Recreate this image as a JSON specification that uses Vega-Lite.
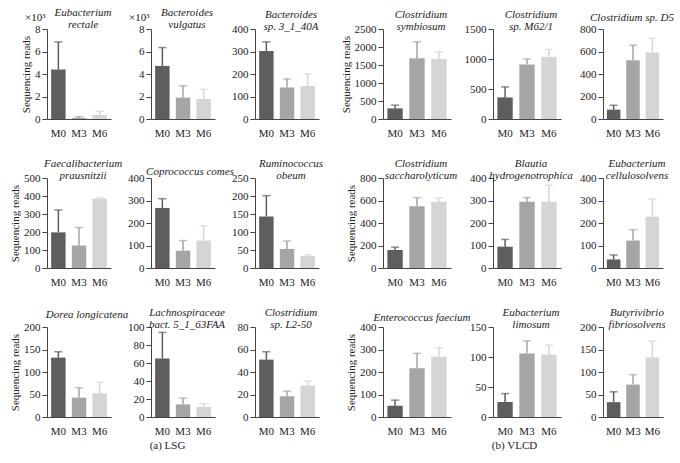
{
 "$schema": "https://vega.github.io/schema/vega-lite/v6.json",
 "background": "white",
 "padding": {"left": 9, "top": 6, "right": 2, "bottom": 2},
 "data": {"values": [
  {"taxon": "Eubacterium rectale", "month": "M0", "mean": 4.4, "upper": 6.85},
  {"taxon": "Eubacterium rectale", "month": "M3", "mean": 0.1, "upper": 0.2},
  {"taxon": "Eubacterium rectale", "month": "M6", "mean": 0.35, "upper": 0.68},
  {"taxon": "Bacteroides vulgatus", "month": "M0", "mean": 4.72, "upper": 6.35},
  {"taxon": "Bacteroides vulgatus", "month": "M3", "mean": 1.9, "upper": 2.95},
  {"taxon": "Bacteroides vulgatus", "month": "M6", "mean": 1.78, "upper": 2.63},
  {"taxon": "Bacteroides sp. 3_1_40A", "month": "M0", "mean": 302, "upper": 343},
  {"taxon": "Bacteroides sp. 3_1_40A", "month": "M3", "mean": 140, "upper": 178},
  {"taxon": "Bacteroides sp. 3_1_40A", "month": "M6", "mean": 147, "upper": 200},
  {"taxon": "Faecalibacterium prausnitzii", "month": "M0", "mean": 198, "upper": 322},
  {"taxon": "Faecalibacterium prausnitzii", "month": "M3", "mean": 125, "upper": 225},
  {"taxon": "Faecalibacterium prausnitzii", "month": "M6", "mean": 385, "upper": 390},
  {"taxon": "Coprococcus comes", "month": "M0", "mean": 267, "upper": 308},
  {"taxon": "Coprococcus comes", "month": "M3", "mean": 77, "upper": 122},
  {"taxon": "Coprococcus comes", "month": "M6", "mean": 122, "upper": 187},
  {"taxon": "Ruminococcus obeum", "month": "M0", "mean": 143, "upper": 201},
  {"taxon": "Ruminococcus obeum", "month": "M3", "mean": 53, "upper": 75},
  {"taxon": "Ruminococcus obeum", "month": "M6", "mean": 33, "upper": 37},
  {"taxon": "Dorea longicatena", "month": "M0", "mean": 132, "upper": 145},
  {"taxon": "Dorea longicatena", "month": "M3", "mean": 43, "upper": 65},
  {"taxon": "Dorea longicatena", "month": "M6", "mean": 53, "upper": 77},
  {"taxon": "Lachnospiraceae bact. 5_1_63FAA", "month": "M0", "mean": 65, "upper": 94},
  {"taxon": "Lachnospiraceae bact. 5_1_63FAA", "month": "M3", "mean": 14, "upper": 21},
  {"taxon": "Lachnospiraceae bact. 5_1_63FAA", "month": "M6", "mean": 11, "upper": 15},
  {"taxon": "Clostridium sp. L2-50", "month": "M0", "mean": 51, "upper": 58},
  {"taxon": "Clostridium sp. L2-50", "month": "M3", "mean": 18.5, "upper": 23},
  {"taxon": "Clostridium sp. L2-50", "month": "M6", "mean": 28, "upper": 32},
  {"taxon": "Clostridium symbiosum", "month": "M0", "mean": 295, "upper": 385},
  {"taxon": "Clostridium symbiosum", "month": "M3", "mean": 1690, "upper": 2145},
  {"taxon": "Clostridium symbiosum", "month": "M6", "mean": 1670, "upper": 1865},
  {"taxon": "Clostridium sp. M62/1", "month": "M0", "mean": 360, "upper": 535},
  {"taxon": "Clostridium sp. M62/1", "month": "M3", "mean": 910, "upper": 1000},
  {"taxon": "Clostridium sp. M62/1", "month": "M6", "mean": 1035, "upper": 1160},
  {"taxon": "Clostridium sp. D5", "month": "M0", "mean": 83, "upper": 122},
  {"taxon": "Clostridium sp. D5", "month": "M3", "mean": 522, "upper": 655},
  {"taxon": "Clostridium sp. D5", "month": "M6", "mean": 592, "upper": 717},
  {"taxon": "Clostridium saccharolyticum", "month": "M0", "mean": 160, "upper": 185},
  {"taxon": "Clostridium saccharolyticum", "month": "M3", "mean": 550, "upper": 625},
  {"taxon": "Clostridium saccharolyticum", "month": "M6", "mean": 590, "upper": 622},
  {"taxon": "Blautia hydrogenotrophica", "month": "M0", "mean": 95, "upper": 127},
  {"taxon": "Blautia hydrogenotrophica", "month": "M3", "mean": 295, "upper": 313},
  {"taxon": "Blautia hydrogenotrophica", "month": "M6", "mean": 295, "upper": 368},
  {"taxon": "Eubacterium cellulosolvens", "month": "M0", "mean": 38, "upper": 58},
  {"taxon": "Eubacterium cellulosolvens", "month": "M3", "mean": 122, "upper": 170},
  {"taxon": "Eubacterium cellulosolvens", "month": "M6", "mean": 228, "upper": 307},
  {"taxon": "Enterococcus faecium", "month": "M0", "mean": 50, "upper": 75},
  {"taxon": "Enterococcus faecium", "month": "M3", "mean": 217, "upper": 283},
  {"taxon": "Enterococcus faecium", "month": "M6", "mean": 268, "upper": 308},
  {"taxon": "Eubacterium limosum", "month": "M0", "mean": 25, "upper": 39},
  {"taxon": "Eubacterium limosum", "month": "M3", "mean": 106, "upper": 127},
  {"taxon": "Eubacterium limosum", "month": "M6", "mean": 104, "upper": 120},
  {"taxon": "Butyrivibrio fibriosolvens", "month": "M0", "mean": 33, "upper": 56},
  {"taxon": "Butyrivibrio fibriosolvens", "month": "M3", "mean": 72, "upper": 94},
  {"taxon": "Butyrivibrio fibriosolvens", "month": "M6", "mean": 132, "upper": 169}
 ]},
 "spacing": 16,
 "hconcat": [
  {"columns": 3, "bounds": "flush", "spacing": {"row": 59, "column": 40}, "concat": [
   {"width": 64, "height": 90, "title": {"text": ["Eubacterium", "rectale"], "dy": 10},
    "transform": [{"filter": "datum.taxon === 'Eubacterium rectale'"}],
    "encoding": {"x": {"field": "month", "type": "nominal", "title": null}, "color": {"field": "month", "type": "nominal", "scale": {"domain": ["M0", "M3", "M6"], "range": ["#5e5e5e", "#a5a5a5", "#d5d5d5"]}, "legend": null}},
    "layer": [
     {"mark": "bar", "encoding": {"y": {"field": "mean", "type": "quantitative", "scale": {"domain": [0, 8], "nice": false}, "axis": {"values": [0, 2, 4, 6, 8], "title": "Sequencing reads"}}}},
     {"mark": {"type": "rule", "strokeWidth": 1.5}, "encoding": {"y": {"field": "mean", "type": "quantitative", "axis": {"orient": "right", "title": "×10³", "labels": false, "ticks": false, "domain": false, "titleAngle": 0, "titleAlign": "right", "titleBaseline": "alphabetic", "titleX": -66, "titleY": -9}}, "y2": {"field": "upper"}}},
     {"mark": {"type": "tick", "size": 8, "thickness": 1.5}, "encoding": {"y": {"field": "upper", "type": "quantitative", "axis": null}}}
    ],
    "resolve": {"axis": {"y": "independent"}}},
   {"width": 64, "height": 90, "title": {"text": ["Bacteroides", "vulgatus"], "dy": 10},
    "transform": [{"filter": "datum.taxon === 'Bacteroides vulgatus'"}],
    "encoding": {"x": {"field": "month", "type": "nominal", "title": null}, "color": {"field": "month", "type": "nominal", "scale": {"domain": ["M0", "M3", "M6"], "range": ["#5e5e5e", "#a5a5a5", "#d5d5d5"]}, "legend": null}},
    "layer": [
     {"mark": "bar", "encoding": {"y": {"field": "mean", "type": "quantitative", "scale": {"domain": [0, 8], "nice": false}, "axis": {"values": [0, 2, 4, 6, 8], "title": null}}}},
     {"mark": {"type": "rule", "strokeWidth": 1.5}, "encoding": {"y": {"field": "mean", "type": "quantitative", "axis": {"orient": "right", "title": "×10³", "labels": false, "ticks": false, "domain": false, "titleAngle": 0, "titleAlign": "right", "titleBaseline": "alphabetic", "titleX": -66, "titleY": -9}}, "y2": {"field": "upper"}}},
     {"mark": {"type": "tick", "size": 8, "thickness": 1.5}, "encoding": {"y": {"field": "upper", "type": "quantitative", "axis": null}}}
    ],
    "resolve": {"axis": {"y": "independent"}}},
   {"width": 64, "height": 90, "title": {"text": ["Bacteroides", "sp. 3_1_40A"]},
    "transform": [{"filter": "datum.taxon === 'Bacteroides sp. 3_1_40A'"}],
    "encoding": {"x": {"field": "month", "type": "nominal", "title": null}, "color": {"field": "month", "type": "nominal", "scale": {"domain": ["M0", "M3", "M6"], "range": ["#5e5e5e", "#a5a5a5", "#d5d5d5"]}, "legend": null}},
    "layer": [
     {"mark": "bar", "encoding": {"y": {"field": "mean", "type": "quantitative", "scale": {"domain": [0, 400], "nice": false}, "axis": {"values": [0, 100, 200, 300, 400], "title": null}}}},
     {"mark": {"type": "rule", "strokeWidth": 1.5}, "encoding": {"y": {"field": "mean", "type": "quantitative", "axis": null}, "y2": {"field": "upper"}}},
     {"mark": {"type": "tick", "size": 8, "thickness": 1.5}, "encoding": {"y": {"field": "upper", "type": "quantitative", "axis": null}}}
    ],
    "resolve": {"axis": {"y": "independent"}}},
   {"width": 64, "height": 90, "title": {"text": ["Faecalibacterium", "prausnitzii"]},
    "transform": [{"filter": "datum.taxon === 'Faecalibacterium prausnitzii'"}],
    "encoding": {"x": {"field": "month", "type": "nominal", "title": null}, "color": {"field": "month", "type": "nominal", "scale": {"domain": ["M0", "M3", "M6"], "range": ["#5e5e5e", "#a5a5a5", "#d5d5d5"]}, "legend": null}},
    "layer": [
     {"mark": "bar", "encoding": {"y": {"field": "mean", "type": "quantitative", "scale": {"domain": [0, 500], "nice": false}, "axis": {"values": [0, 100, 200, 300, 400, 500], "title": "Sequencing reads"}}}},
     {"mark": {"type": "rule", "strokeWidth": 1.5}, "encoding": {"y": {"field": "mean", "type": "quantitative", "axis": null}, "y2": {"field": "upper"}}},
     {"mark": {"type": "tick", "size": 8, "thickness": 1.5}, "encoding": {"y": {"field": "upper", "type": "quantitative", "axis": null}}}
    ],
    "resolve": {"axis": {"y": "independent"}}},
   {"width": 64, "height": 90, "title": {"text": "Coprococcus comes", "dx": 7, "dy": -4},
    "transform": [{"filter": "datum.taxon === 'Coprococcus comes'"}],
    "encoding": {"x": {"field": "month", "type": "nominal", "title": null}, "color": {"field": "month", "type": "nominal", "scale": {"domain": ["M0", "M3", "M6"], "range": ["#5e5e5e", "#a5a5a5", "#d5d5d5"]}, "legend": null}},
    "layer": [
     {"mark": "bar", "encoding": {"y": {"field": "mean", "type": "quantitative", "scale": {"domain": [0, 400], "nice": false}, "axis": {"values": [0, 100, 200, 300, 400], "title": null}}}},
     {"mark": {"type": "rule", "strokeWidth": 1.5}, "encoding": {"y": {"field": "mean", "type": "quantitative", "axis": null}, "y2": {"field": "upper"}}},
     {"mark": {"type": "tick", "size": 8, "thickness": 1.5}, "encoding": {"y": {"field": "upper", "type": "quantitative", "axis": null}}}
    ],
    "resolve": {"axis": {"y": "independent"}}},
   {"width": 64, "height": 90, "title": {"text": ["Ruminococcus", "obeum"]},
    "transform": [{"filter": "datum.taxon === 'Ruminococcus obeum'"}],
    "encoding": {"x": {"field": "month", "type": "nominal", "title": null}, "color": {"field": "month", "type": "nominal", "scale": {"domain": ["M0", "M3", "M6"], "range": ["#5e5e5e", "#a5a5a5", "#d5d5d5"]}, "legend": null}},
    "layer": [
     {"mark": "bar", "encoding": {"y": {"field": "mean", "type": "quantitative", "scale": {"domain": [0, 250], "nice": false}, "axis": {"values": [0, 50, 100, 150, 200, 250], "title": null}}}},
     {"mark": {"type": "rule", "strokeWidth": 1.5}, "encoding": {"y": {"field": "mean", "type": "quantitative", "axis": null}, "y2": {"field": "upper"}}},
     {"mark": {"type": "tick", "size": 8, "thickness": 1.5}, "encoding": {"y": {"field": "upper", "type": "quantitative", "axis": null}}}
    ],
    "resolve": {"axis": {"y": "independent"}}},
   {"width": 64, "height": 90, "title": {"text": "Dorea longicatena", "dx": 8, "dy": -10},
    "transform": [{"filter": "datum.taxon === 'Dorea longicatena'"}],
    "encoding": {"x": {"field": "month", "type": "nominal", "title": null}, "color": {"field": "month", "type": "nominal", "scale": {"domain": ["M0", "M3", "M6"], "range": ["#5e5e5e", "#a5a5a5", "#d5d5d5"]}, "legend": null}},
    "layer": [
     {"mark": "bar", "encoding": {"y": {"field": "mean", "type": "quantitative", "scale": {"domain": [0, 200], "nice": false}, "axis": {"values": [0, 50, 100, 150, 200], "title": "Sequencing reads"}}}},
     {"mark": {"type": "rule", "strokeWidth": 1.5}, "encoding": {"y": {"field": "mean", "type": "quantitative", "axis": null}, "y2": {"field": "upper"}}},
     {"mark": {"type": "tick", "size": 8, "thickness": 1.5}, "encoding": {"y": {"field": "upper", "type": "quantitative", "axis": null}}}
    ],
    "resolve": {"axis": {"y": "independent"}}},
   {"width": 64, "height": 90, "title": {"text": ["Lachnospiraceae", "bact. 5_1_63FAA"]},
    "transform": [{"filter": "datum.taxon === 'Lachnospiraceae bact. 5_1_63FAA'"}],
    "encoding": {"x": {"field": "month", "type": "nominal", "title": "(a) LSG", "axis": {"titleX": 16, "titleY": 22, "titleBaseline": "top", "titleAlign": "center"}}, "color": {"field": "month", "type": "nominal", "scale": {"domain": ["M0", "M3", "M6"], "range": ["#5e5e5e", "#a5a5a5", "#d5d5d5"]}, "legend": null}},
    "layer": [
     {"mark": "bar", "encoding": {"y": {"field": "mean", "type": "quantitative", "scale": {"domain": [0, 100], "nice": false}, "axis": {"values": [0, 20, 40, 60, 80, 100], "title": null}}}},
     {"mark": {"type": "rule", "strokeWidth": 1.5}, "encoding": {"y": {"field": "mean", "type": "quantitative", "axis": null}, "y2": {"field": "upper"}}},
     {"mark": {"type": "tick", "size": 8, "thickness": 1.5}, "encoding": {"y": {"field": "upper", "type": "quantitative", "axis": null}}}
    ],
    "resolve": {"axis": {"y": "independent"}}},
   {"width": 64, "height": 90, "title": {"text": ["Clostridium", "sp. L2-50"]},
    "transform": [{"filter": "datum.taxon === 'Clostridium sp. L2-50'"}],
    "encoding": {"x": {"field": "month", "type": "nominal", "title": null}, "color": {"field": "month", "type": "nominal", "scale": {"domain": ["M0", "M3", "M6"], "range": ["#5e5e5e", "#a5a5a5", "#d5d5d5"]}, "legend": null}},
    "layer": [
     {"mark": "bar", "encoding": {"y": {"field": "mean", "type": "quantitative", "scale": {"domain": [0, 80], "nice": false}, "axis": {"values": [0, 20, 40, 60, 80], "title": null}}}},
     {"mark": {"type": "rule", "strokeWidth": 1.5}, "encoding": {"y": {"field": "mean", "type": "quantitative", "axis": null}, "y2": {"field": "upper"}}},
     {"mark": {"type": "tick", "size": 8, "thickness": 1.5}, "encoding": {"y": {"field": "upper", "type": "quantitative", "axis": null}}}
    ],
    "resolve": {"axis": {"y": "independent"}}}
  ]},
  {"columns": 3, "bounds": "flush", "spacing": {"row": 59, "column": 42}, "concat": [
   {"width": 68, "height": 90, "title": {"text": ["Clostridium", "symbiosum"]},
    "transform": [{"filter": "datum.taxon === 'Clostridium symbiosum'"}],
    "encoding": {"x": {"field": "month", "type": "nominal", "title": null}, "color": {"field": "month", "type": "nominal", "scale": {"domain": ["M0", "M3", "M6"], "range": ["#5e5e5e", "#a5a5a5", "#d5d5d5"]}, "legend": null}},
    "layer": [
     {"mark": "bar", "encoding": {"y": {"field": "mean", "type": "quantitative", "scale": {"domain": [0, 2500], "nice": false}, "axis": {"values": [0, 500, 1000, 1500, 2000, 2500], "title": "Sequencing reads"}}}},
     {"mark": {"type": "rule", "strokeWidth": 1.5}, "encoding": {"y": {"field": "mean", "type": "quantitative", "axis": null}, "y2": {"field": "upper"}}},
     {"mark": {"type": "tick", "size": 8, "thickness": 1.5}, "encoding": {"y": {"field": "upper", "type": "quantitative", "axis": null}}}
    ],
    "resolve": {"axis": {"y": "independent"}}},
   {"width": 68, "height": 90, "title": {"text": ["Clostridium", "sp. M62/1"]},
    "transform": [{"filter": "datum.taxon === 'Clostridium sp. M62/1'"}],
    "encoding": {"x": {"field": "month", "type": "nominal", "title": null}, "color": {"field": "month", "type": "nominal", "scale": {"domain": ["M0", "M3", "M6"], "range": ["#5e5e5e", "#a5a5a5", "#d5d5d5"]}, "legend": null}},
    "layer": [
     {"mark": "bar", "encoding": {"y": {"field": "mean", "type": "quantitative", "scale": {"domain": [0, 1500], "nice": false}, "axis": {"values": [0, 500, 1000, 1500], "title": null}}}},
     {"mark": {"type": "rule", "strokeWidth": 1.5}, "encoding": {"y": {"field": "mean", "type": "quantitative", "axis": null}, "y2": {"field": "upper"}}},
     {"mark": {"type": "tick", "size": 8, "thickness": 1.5}, "encoding": {"y": {"field": "upper", "type": "quantitative", "axis": null}}}
    ],
    "resolve": {"axis": {"y": "independent"}}},
   {"width": 60, "height": 90, "title": {"text": "Clostridium sp. D5", "dx": -1, "dy": -9},
    "transform": [{"filter": "datum.taxon === 'Clostridium sp. D5'"}],
    "encoding": {"x": {"field": "month", "type": "nominal", "title": null}, "color": {"field": "month", "type": "nominal", "scale": {"domain": ["M0", "M3", "M6"], "range": ["#5e5e5e", "#a5a5a5", "#d5d5d5"]}, "legend": null}},
    "layer": [
     {"mark": "bar", "encoding": {"y": {"field": "mean", "type": "quantitative", "scale": {"domain": [0, 800], "nice": false}, "axis": {"values": [0, 200, 400, 600, 800], "title": null}}}},
     {"mark": {"type": "rule", "strokeWidth": 1.5}, "encoding": {"y": {"field": "mean", "type": "quantitative", "axis": null}, "y2": {"field": "upper"}}},
     {"mark": {"type": "tick", "size": 8, "thickness": 1.5}, "encoding": {"y": {"field": "upper", "type": "quantitative", "axis": null}}}
    ],
    "resolve": {"axis": {"y": "independent"}}},
   {"width": 68, "height": 90, "title": {"text": ["Clostridium", "saccharolyticum"]},
    "transform": [{"filter": "datum.taxon === 'Clostridium saccharolyticum'"}],
    "encoding": {"x": {"field": "month", "type": "nominal", "title": null}, "color": {"field": "month", "type": "nominal", "scale": {"domain": ["M0", "M3", "M6"], "range": ["#5e5e5e", "#a5a5a5", "#d5d5d5"]}, "legend": null}},
    "layer": [
     {"mark": "bar", "encoding": {"y": {"field": "mean", "type": "quantitative", "scale": {"domain": [0, 800], "nice": false}, "axis": {"values": [0, 200, 400, 600, 800], "title": "Sequencing reads"}}}},
     {"mark": {"type": "rule", "strokeWidth": 1.5}, "encoding": {"y": {"field": "mean", "type": "quantitative", "axis": null}, "y2": {"field": "upper"}}},
     {"mark": {"type": "tick", "size": 8, "thickness": 1.5}, "encoding": {"y": {"field": "upper", "type": "quantitative", "axis": null}}}
    ],
    "resolve": {"axis": {"y": "independent"}}},
   {"width": 68, "height": 90, "title": {"text": ["Blautia", "hydrogenotrophica"]},
    "transform": [{"filter": "datum.taxon === 'Blautia hydrogenotrophica'"}],
    "encoding": {"x": {"field": "month", "type": "nominal", "title": null}, "color": {"field": "month", "type": "nominal", "scale": {"domain": ["M0", "M3", "M6"], "range": ["#5e5e5e", "#a5a5a5", "#d5d5d5"]}, "legend": null}},
    "layer": [
     {"mark": "bar", "encoding": {"y": {"field": "mean", "type": "quantitative", "scale": {"domain": [0, 400], "nice": false}, "axis": {"values": [0, 100, 200, 300, 400], "title": null}}}},
     {"mark": {"type": "rule", "strokeWidth": 1.5}, "encoding": {"y": {"field": "mean", "type": "quantitative", "axis": null}, "y2": {"field": "upper"}}},
     {"mark": {"type": "tick", "size": 8, "thickness": 1.5}, "encoding": {"y": {"field": "upper", "type": "quantitative", "axis": null}}}
    ],
    "resolve": {"axis": {"y": "independent"}}},
   {"width": 60, "height": 90, "title": {"text": ["Eubacterium", "cellulosolvens"]},
    "transform": [{"filter": "datum.taxon === 'Eubacterium cellulosolvens'"}],
    "encoding": {"x": {"field": "month", "type": "nominal", "title": null}, "color": {"field": "month", "type": "nominal", "scale": {"domain": ["M0", "M3", "M6"], "range": ["#5e5e5e", "#a5a5a5", "#d5d5d5"]}, "legend": null}},
    "layer": [
     {"mark": "bar", "encoding": {"y": {"field": "mean", "type": "quantitative", "scale": {"domain": [0, 400], "nice": false}, "axis": {"values": [0, 100, 200, 300, 400], "title": null}}}},
     {"mark": {"type": "rule", "strokeWidth": 1.5}, "encoding": {"y": {"field": "mean", "type": "quantitative", "axis": null}, "y2": {"field": "upper"}}},
     {"mark": {"type": "tick", "size": 8, "thickness": 1.5}, "encoding": {"y": {"field": "upper", "type": "quantitative", "axis": null}}}
    ],
    "resolve": {"axis": {"y": "independent"}}},
   {"width": 68, "height": 90, "title": {"text": "Enterococcus faecium", "dx": 5, "dy": -7},
    "transform": [{"filter": "datum.taxon === 'Enterococcus faecium'"}],
    "encoding": {"x": {"field": "month", "type": "nominal", "title": null}, "color": {"field": "month", "type": "nominal", "scale": {"domain": ["M0", "M3", "M6"], "range": ["#5e5e5e", "#a5a5a5", "#d5d5d5"]}, "legend": null}},
    "layer": [
     {"mark": "bar", "encoding": {"y": {"field": "mean", "type": "quantitative", "scale": {"domain": [0, 400], "nice": false}, "axis": {"values": [0, 100, 200, 300, 400], "title": "Sequencing reads"}}}},
     {"mark": {"type": "rule", "strokeWidth": 1.5}, "encoding": {"y": {"field": "mean", "type": "quantitative", "axis": null}, "y2": {"field": "upper"}}},
     {"mark": {"type": "tick", "size": 8, "thickness": 1.5}, "encoding": {"y": {"field": "upper", "type": "quantitative", "axis": null}}}
    ],
    "resolve": {"axis": {"y": "independent"}}},
   {"width": 68, "height": 90, "title": {"text": ["Eubacterium", "limosum"]},
    "transform": [{"filter": "datum.taxon === 'Eubacterium limosum'"}],
    "encoding": {"x": {"field": "month", "type": "nominal", "title": "(b) VLCD", "axis": {"titleX": 21, "titleY": 22, "titleBaseline": "top", "titleAlign": "center"}}, "color": {"field": "month", "type": "nominal", "scale": {"domain": ["M0", "M3", "M6"], "range": ["#5e5e5e", "#a5a5a5", "#d5d5d5"]}, "legend": null}},
    "layer": [
     {"mark": "bar", "encoding": {"y": {"field": "mean", "type": "quantitative", "scale": {"domain": [0, 150], "nice": false}, "axis": {"values": [0, 50, 100, 150], "title": null}}}},
     {"mark": {"type": "rule", "strokeWidth": 1.5}, "encoding": {"y": {"field": "mean", "type": "quantitative", "axis": null}, "y2": {"field": "upper"}}},
     {"mark": {"type": "tick", "size": 8, "thickness": 1.5}, "encoding": {"y": {"field": "upper", "type": "quantitative", "axis": null}}}
    ],
    "resolve": {"axis": {"y": "independent"}}},
   {"width": 60, "height": 90, "title": {"text": ["Butyrivibrio", "fibriosolvens"]},
    "transform": [{"filter": "datum.taxon === 'Butyrivibrio fibriosolvens'"}],
    "encoding": {"x": {"field": "month", "type": "nominal", "title": null}, "color": {"field": "month", "type": "nominal", "scale": {"domain": ["M0", "M3", "M6"], "range": ["#5e5e5e", "#a5a5a5", "#d5d5d5"]}, "legend": null}},
    "layer": [
     {"mark": "bar", "encoding": {"y": {"field": "mean", "type": "quantitative", "scale": {"domain": [0, 200], "nice": false}, "axis": {"values": [0, 50, 100, 150, 200], "title": null}}}},
     {"mark": {"type": "rule", "strokeWidth": 1.5}, "encoding": {"y": {"field": "mean", "type": "quantitative", "axis": null}, "y2": {"field": "upper"}}},
     {"mark": {"type": "tick", "size": 8, "thickness": 1.5}, "encoding": {"y": {"field": "upper", "type": "quantitative", "axis": null}}}
    ],
    "resolve": {"axis": {"y": "independent"}}}
  ]}
 ],
 "config": {
  "font": "Liberation Serif",
  "numberFormat": "d",
  "view": {"stroke": null},
  "axis": {"labelFont": "Liberation Serif", "labelFontSize": 11, "labelColor": "#222222", "titleFont": "Liberation Serif", "titleFontSize": 11, "titleFontWeight": "normal", "titleColor": "#222222", "domainColor": "#444444", "tickColor": "#444444", "grid": false},
  "axisX": {"labelAngle": 0, "ticks": false, "labelPadding": 8},
  "axisY": {"tickSize": 5, "labelPadding": 2, "titlePadding": 3},
  "title": {"font": "Liberation Serif", "fontSize": 11, "fontStyle": "italic", "fontWeight": "normal", "color": "#222222", "anchor": "middle", "baseline": "bottom", "offset": -9, "lineHeight": 12.5, "dx": 4},
  "scale": {"bandPaddingInner": 0.3, "bandPaddingOuter": 0.2}
 }
}
